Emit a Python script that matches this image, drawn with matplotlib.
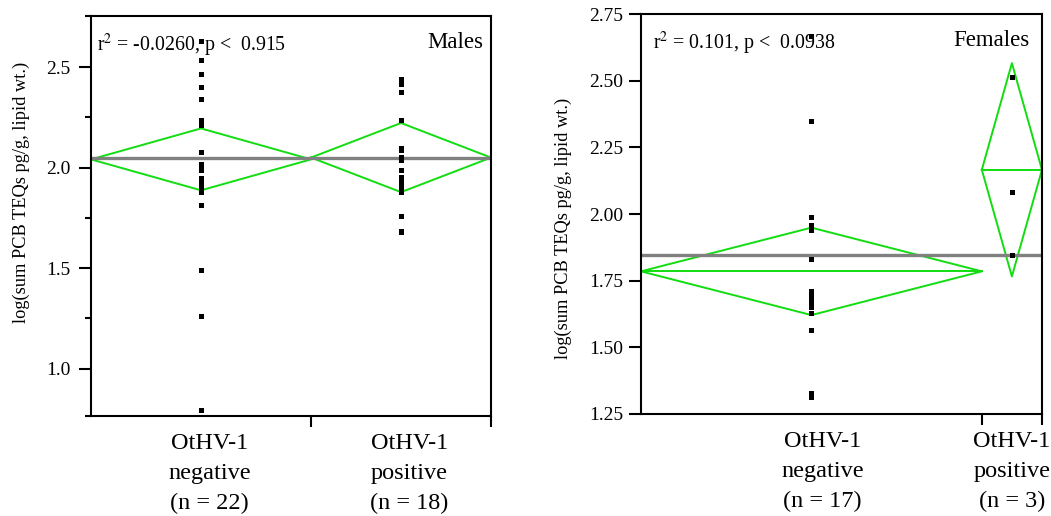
import numpy as np
import matplotlib.pyplot as plt

plt.rcParams['font.family'] = 'Liberation Serif'
plt.rcParams['mathtext.fontset'] = 'stix'

# values
group_labels = ['OtHV-1\nnegative', 'OtHV-1\npositive']

males_neg = [2.63, 2.63, 2.535, 2.465, 2.465, 2.40, 2.34, 2.235, 2.21, 2.08, 2.02,
             2.00, 1.99, 1.95, 1.93, 1.91, 1.89, 1.88, 1.815, 1.49, 1.26, 0.795]
males_pos = [2.44, 2.43, 2.415, 2.375, 2.235, 2.10, 2.09, 2.055, 2.04, 1.99, 1.955,
             1.94, 1.925, 1.905, 1.88, 1.757, 1.687, 1.68]
males_means = [2.041, 2.05]
males_ci = [0.154, 0.172]
males_grand = 2.046

females_neg = [2.668, 2.35, 1.99, 1.958, 1.94, 1.83, 1.71, 1.70, 1.69, 1.68, 1.67,
               1.66, 1.65, 1.63, 1.565, 1.33, 1.315]
females_pos = [2.514, 2.084, 1.845]
females_means = [1.785, 2.166]
females_ci = [0.164, 0.40]
females_grand = 1.845

ylabel = 'log(sum PCB TEQs pg/g, lipid wt.)'


def panel(ax, data, means, cis, grand, sex, stat, label_dx, tick_pad):
    n = [len(d) for d in data]
    edges = np.concatenate([[0], np.cumsum(n)])
    centers = (edges[:-1] + edges[1:]) / 2
    for i in range(len(data)):
        x0, x1, xc = edges[i], edges[i + 1], centers[i]
        m, c = means[i], cis[i]
        ax.plot([x0, xc, x1, xc, x0], [m, m + c, m, m - c, m], color='#11dd11', lw=1.4)
        ax.plot([x0, x1], [m, m], color='#11dd11', lw=1.4)
    ax.axhline(grand, color='#808080', lw=2.4)
    for i, d in enumerate(data):
        ax.plot(np.full(len(d), centers[i]), d, 's', color='black', ms=3.6, mew=0)

    ax.set_xlim(0, edges[-1])
    ax.set_xticks(edges[1:])
    ax.set_xticklabels([])
    ax.tick_params(axis='x', direction='out', length=8, width=1.5)
    ax.tick_params(axis='y', which='major', direction='out', length=9, width=1.5,
                   labelsize=14, pad=tick_pad)
    ax.tick_params(axis='y', which='minor', direction='out', length=4.5, width=1.5)
    for s in ax.spines.values():
        s.set_linewidth(1.5)

    for i, lab in enumerate(group_labels):
        ax.annotate('%s\n(n = %d)' % (lab, n[i]), xy=(centers[i], 0),
                    xycoords=('data', 'axes fraction'), xytext=(label_dx[i], -12),
                    textcoords='offset points', ha='center', va='top',
                    fontsize=17.5, linespacing=1.56, annotation_clip=False)

    ax.text(0.015 if sex == 'Males' else 0.03, 0.927, stat, transform=ax.transAxes,
            ha='left', va='center', fontsize=14.3)
    ax.text(0.98 if sex == 'Males' else 0.968, 0.935, sex, transform=ax.transAxes,
            ha='right', va='center', fontsize=16.5)
    ax.set_ylabel(ylabel, fontsize=13.2)


fig = plt.figure(figsize=(10.51, 5.16), dpi=100)
ax1 = fig.add_axes([0.0866, 0.1938, 0.3806, 0.775])
ax2 = fig.add_axes([0.6099, 0.1977, 0.3815, 0.775])

panel(ax1, [males_neg, males_pos], males_means, males_ci, males_grand, 'Males',
      r'r$^2$ = -0.0260, p <  0.915', [6, 6], 6)
ax1.set_ylim(0.764, 2.754)
ax1.set_yticks([1.0, 1.5, 2.0, 2.5])
ax1.set_yticklabels(['1.0', '1.5', '2.0', '2.5'])
ax1.set_yticks([0.764, 1.25, 1.75, 2.25, 2.754], minor=True)
ax1.yaxis.set_label_coords(-0.152, 0.56)

panel(ax2, [females_neg, females_pos], females_means, females_ci, females_grand, 'Females',
      r'r$^2$ = 0.101, p <  0.0938', [8, 0], 4)
ax2.set_ylim(1.25, 2.75)
yt = [1.25, 1.50, 1.75, 2.00, 2.25, 2.50, 2.75]
ax2.set_yticks(yt)
ax2.set_yticklabels(['%.2f' % v for v in yt])
ax2.yaxis.set_label_coords(-0.172, 0.465)

fig.savefig('out.png', dpi=100)
